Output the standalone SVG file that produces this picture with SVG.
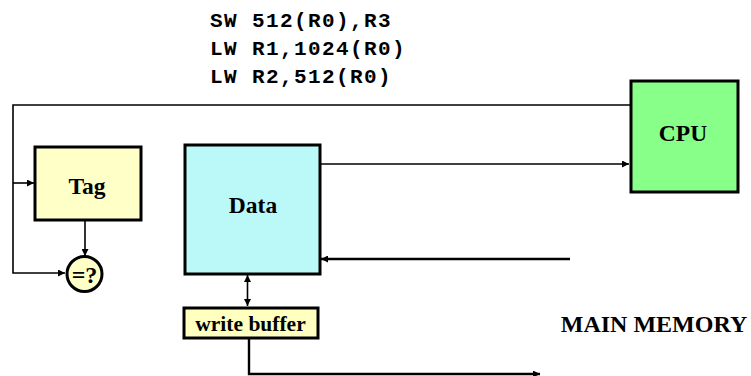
<svg xmlns="http://www.w3.org/2000/svg" width="751" height="376" viewBox="0 0 751 376">
<defs>
<style>
.box{stroke:#000;stroke-width:3}
.lbl{font-family:"Liberation Serif","Times New Roman",serif;font-weight:bold;fill:#000;text-anchor:middle}
.code{font-family:"Liberation Mono","Courier New",monospace;font-weight:bold;font-size:21px;letter-spacing:1.4px;fill:#000}
.wire{fill:none;stroke:#000;stroke-width:1.6}
.thick{fill:none;stroke:#000;stroke-width:2.4}
</style>
<marker id="ah" viewBox="0 0 10 10" refX="10" refY="5" markerWidth="8" markerHeight="7" markerUnits="userSpaceOnUse" orient="auto">
<path d="M0,0 L10,5 L0,10 z" fill="#000"/>
</marker>
<marker id="ahs" viewBox="0 0 10 10" refX="10" refY="5" markerWidth="8" markerHeight="7" markerUnits="userSpaceOnUse" orient="auto-start-reverse">
<path d="M0,0 L10,5 L0,10 z" fill="#000"/>
</marker>
</defs>
<rect width="751" height="376" fill="#fff"/>
<g id="code">
<text class="code" x="210" y="27">SW 512(R0),R3</text>
<text class="code" x="210" y="55">LW R1,1024(R0)</text>
<text class="code" x="210" y="83">LW R2,512(R0)</text>
</g>
<g id="connectors">
<polyline class="wire" points="630,105 13,105 13,273 65,273" marker-end="url(#ah)"/>
<line class="wire" x1="13" y1="183" x2="34" y2="183" marker-end="url(#ah)"/>
<line class="wire" x1="85" y1="221" x2="85" y2="256" marker-end="url(#ah)"/>
<line class="wire" x1="320" y1="164" x2="629" y2="164" marker-end="url(#ah)"/>
<line class="thick" x1="570" y1="259" x2="321" y2="259" marker-end="url(#ah)"/>
<line class="wire" x1="247.5" y1="275" x2="247.5" y2="306" marker-start="url(#ahs)" marker-end="url(#ah)"/>
<polyline class="thick" points="249,339 249,374 540,374" marker-end="url(#ah)"/>
</g>
<g id="tag">
<rect class="box" x="35" y="147" width="106" height="73" fill="#FFFFC8"/>
<text class="lbl" x="87" y="194" font-size="23.5">Tag</text>
</g>
<g id="compare">
<circle class="box" cx="84.5" cy="274" r="17.5" fill="#FFFFC8"/>
<text class="lbl" x="84.5" y="282.5" font-size="24">=?</text>
</g>
<g id="data">
<rect class="box" x="185" y="145" width="135" height="129" fill="#BBF8F8"/>
<text class="lbl" x="253" y="213" font-size="23.5">Data</text>
</g>
<g id="cpu">
<rect class="box" x="631" y="81" width="107" height="111" fill="#88FF88"/>
<text class="lbl" x="683" y="141" font-size="23.5">CPU</text>
</g>
<g id="writebuffer">
<rect class="box" x="184" y="308" width="134" height="30" fill="#FFFFC0"/>
<text class="lbl" x="250.5" y="331" font-size="21.5">write buffer</text>
</g>
<g id="mainmemory">
<text class="lbl" x="654" y="332" font-size="24">MAIN MEMORY</text>
</g>
</svg>
